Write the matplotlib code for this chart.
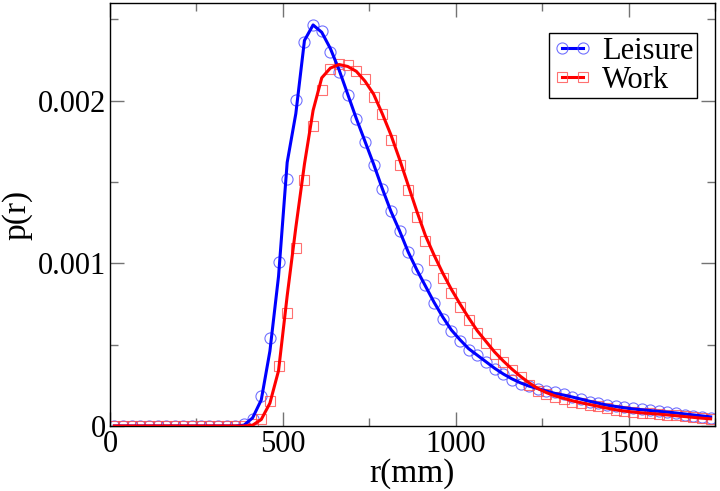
import numpy as np
import matplotlib.pyplot as plt

plt.rcParams['font.family'] = ['Liberation Serif', 'DejaVu Serif']
plt.rcParams['mathtext.fontset'] = 'stix'

# bin centres (mm), shared by both series
r = np.arange(12.5, 1750, 25.0)

# Leisure: histogram points (circles)
leisure_pts = [0, 0, 0, 0, 0, 0, 0, 0, 0, 0, 0, 0, 0, 0, 0.000002, 0.00001, 0.000046,
               0.000182, 0.000538, 0.001006, 0.00152, 0.002003, 0.00236, 0.002465, 0.00243,
               0.002298, 0.002177, 0.002034, 0.001884, 0.001747, 0.001607, 0.001455, 0.00132,
               0.001199, 0.00107, 0.000967, 0.000865, 0.000756, 0.000655, 0.000583, 0.00052,
               0.000465, 0.000438, 0.000393, 0.000352, 0.000321, 0.000284, 0.00026, 0.000245,
               0.000229, 0.000218, 0.000208, 0.000195, 0.00018, 0.000165, 0.00015, 0.00014,
               0.00013, 0.000125, 0.000118, 0.00011, 0.000105, 0.0001, 0.000092, 0.000085,
               0.000078, 0.00007, 0.000062, 0.000055, 0.00005]
# Leisure: smoothed curve
leisure_fit = [0, 0, 0, 0, 0, 0, 0, 0, 0, 0, 0, 0, 0, 0, 0, 0.000005, 0.00005,
               0.00016, 0.00046, 0.00092, 0.00162, 0.00192, 0.00237, 0.002465, 0.00242,
               0.00232, 0.00219, 0.00204, 0.00189, 0.00175, 0.00161, 0.00146, 0.00132,
               0.0012, 0.00107, 0.00096, 0.00086, 0.00076, 0.00067, 0.00059, 0.00053,
               0.000475, 0.000435, 0.000395, 0.000355, 0.00032, 0.00029, 0.000265, 0.000245,
               0.00023, 0.000215, 0.0002, 0.00019, 0.000178, 0.000165, 0.000152, 0.00014,
               0.000128, 0.00012, 0.000112, 0.000105, 0.0001, 0.000095, 0.00009, 0.000085,
               0.00008, 0.000074, 0.000068, 0.000062, 0.000056]

# Work: histogram points (squares)
work_pts = [0, 0, 0, 0, 0, 0, 0, 0, 0, 0, 0, 0, 0, 0, 0, 0.000002, 0.00001,
            0.00004, 0.000153, 0.000368, 0.000697, 0.001096, 0.00151, 0.001845, 0.002065,
            0.002192, 0.002223, 0.002218, 0.002182, 0.00213, 0.002023, 0.001915, 0.00176,
            0.001607, 0.001449, 0.001285, 0.001135, 0.00102, 0.000912, 0.000817, 0.000731,
            0.000649, 0.000571, 0.00051, 0.000444, 0.000393, 0.000346, 0.0003, 0.000255,
            0.000218, 0.000194, 0.000177, 0.000165, 0.00015, 0.00014, 0.00013, 0.00012,
            0.00011, 0.0001, 0.00009, 0.000085, 0.00008, 0.000078, 0.000075, 0.00007,
            0.000065, 0.00006, 0.000055, 0.00005, 0.000045]
# Work: smoothed curve
work_fit = [0, 0, 0, 0, 0, 0, 0, 0, 0, 0, 0, 0, 0, 0, 0, 0, 0.000005,
            0.00004, 0.00014, 0.00034, 0.0008, 0.00122, 0.00161, 0.00194, 0.00214,
            0.0022, 0.002222, 0.00221, 0.00218, 0.00212, 0.00204, 0.00192, 0.00179,
            0.00164, 0.00148, 0.00132, 0.00117, 0.00105, 0.00094, 0.00084, 0.00075,
            0.000665, 0.000585, 0.00052, 0.000455, 0.0004, 0.00035, 0.000305, 0.000265,
            0.00023, 0.000205, 0.000185, 0.00017, 0.000155, 0.000143, 0.000132, 0.000121,
            0.00011, 0.0001, 0.000092, 0.000086, 0.000081, 0.000077, 0.000073, 0.000068,
            0.000063, 0.000058, 0.000053, 0.000048, 0.000044]

fig = plt.figure(figsize=(7.2, 4.91), dpi=100)
ax = fig.add_axes([0.1528, 0.1324, 0.8402, 0.8615])

ax.plot(r, leisure_fit, color='#0000ff', lw=2.2, zorder=3)
ax.plot(r, leisure_pts, ls='none', marker='o', ms=8, mfc='none',
        mec=(0.3, 0.3, 1.0, 0.8), mew=0.8, zorder=2)
ax.plot(r, work_fit, color='#ff0000', lw=2.2, zorder=3)
ax.plot(r, work_pts, ls='none', marker='s', ms=7, mfc='none',
        mec=(1.0, 0.3, 0.3, 0.8), mew=0.8, zorder=2)

# legend proxies: line with a marker at each end
h1, = ax.plot([], [], color='#0000ff', lw=2.2, marker='o', ms=8, mfc='none',
              mec=(0.3, 0.3, 1.0, 0.8), mew=0.8)
h2, = ax.plot([], [], color='#ff0000', lw=2.2, marker='s', ms=7, mfc='none',
              mec=(1.0, 0.3, 0.3, 0.8), mew=0.8)
leg = ax.legend([h1, h2], ['Leisure', 'Work'], loc='upper right',
                bbox_to_anchor=(0.970, 0.929), borderaxespad=0, numpoints=2,
                fontsize=22, fancybox=False, framealpha=1, edgecolor='black',
                handlelength=1.3, handletextpad=0.3, borderpad=0.12,
                labelspacing=0.0)
leg.get_frame().set_linewidth(1.0)

ax.set_xlim(0, 1750)
ax.set_ylim(0, 0.0026)
ax.set_xticks([0, 500, 1000, 1500])
ax.set_xticks([250, 750, 1250, 1750], minor=True)
ax.set_yticks([0, 0.001, 0.002])
ax.set_yticklabels(['0', '0.001', '0.002'])
ax.set_yticks([0.0005, 0.0015, 0.0025], minor=True)
ax.tick_params(which='both', direction='in', top=True, right=True,
               labelsize=22, color='0.45', pad=3)
ax.tick_params(which='major', length=10, width=1)
ax.tick_params(which='minor', length=6, width=1)
for s in ax.spines.values():
    s.set_linewidth(1.0)

ax.set_xlabel('r(mm)', fontsize=24, labelpad=-1)
ax.set_ylabel('p(r)', fontsize=24, labelpad=4)

fig.savefig('out.png', dpi=100)
